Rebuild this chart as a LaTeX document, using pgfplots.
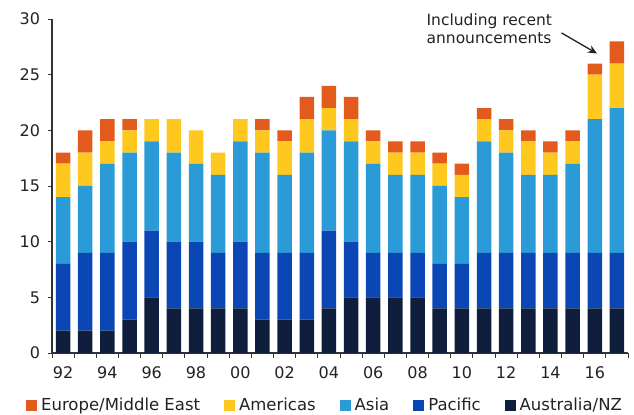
\documentclass[border=0pt]{standalone}
\usepackage{pgfplots}
\pgfplotsset{compat=1.18}
\usepackage{pgfplotstable}
\usepackage{fontspec}
\setmainfont{DejaVu Sans}
\usetikzlibrary{arrows.meta}

\definecolor{cEur}{HTML}{E25A1C}
\definecolor{cAm}{HTML}{FFC81E}
\definecolor{cAsia}{HTML}{2A9BD7}
\definecolor{cPac}{HTML}{0A46B4}
\definecolor{cAus}{HTML}{0F1E3C}
\definecolor{axisgray}{HTML}{333333}
\definecolor{textgray}{HTML}{222222}

% Capacity by region, 1992-2017 (x = 0 is 1992)
\pgfplotstableread{
x  aus pac asia am eur
0  2   6   6    3  1
1  2   7   6    3  2
2  2   7   8    2  2
3  3   7   8    2  1
4  5   6   8    2  0
5  4   6   8    3  0
6  4   6   7    3  0
7  4   5   7    2  0
8  4   6   9    2  0
9  3   6   9    2  1
10 3   6   7    3  1
11 3   6   9    3  2
12 4   7   9    2  2
13 5   5   9    2  2
14 5   4   8    2  1
15 5   4   7    2  1
16 5   4   7    2  1
17 4   4   7    2  1
18 4   4   6    2  1
19 4   5   10   2  1
20 4   5   9    2  1
21 4   5   7    3  1
22 4   5   7    2  1
23 4   5   8    2  1
24 4   5   12   4  1
25 4   5   13   4  2
}\capacity

\begin{document}
\begin{tikzpicture}
\useasboundingbox (0,0) rectangle (634bp,415bp);
\begin{axis}[
  at={(52bp,62bp)}, anchor=south west,
  scale only axis, width=576bp, height=334bp,
  ybar stacked, bar width=14.5bp,
  xmin=-0.5, xmax=25.5, ymin=0, ymax=30,
  clip=false,
  axis x line*=bottom, axis y line*=left,
  axis line style={draw=axisgray, line width=1.1bp},
  tick style={draw=axisgray, line width=0.9bp},
  tick align=outside,
  major tick length=4.5bp,
  xtick={-0.5,0.5,...,25.5}, xticklabels={},
  extra x ticks={0,2,...,24},
  extra x tick labels={92,94,96,98,00,02,04,06,08,10,12,14,16},
  extra x tick style={major tick length=0pt,
    xticklabel style={yshift=-10bp}},
  ytick={0,5,...,30},
  yticklabel style={xshift=-4bp},
  tick label style={font=\fontsize{16bp}{19bp}\selectfont, text=textgray},
  /pgf/number format/assume math mode=true,
  legend columns=5,
  reverse legend,
  legend style={at={(0.474,-0.156)}, anchor=center, draw=none, fill=none,
    font=\fontsize{16.5bp}{19bp}\selectfont, text=textgray,
    /tikz/every even column/.append style={column sep=22bp},
    /tikz/every odd column/.append style={column sep=2bp}},
  legend image code/.code={\fill[#1] (0bp,-5.5bp) rectangle (11bp,5.5bp);},
]
\addplot[fill=cAus, draw=none] table[x=x, y=aus] {\capacity};
\addlegendentry{Australia/NZ}
\addplot[fill=cPac, draw=none] table[x=x, y=pac] {\capacity};
\addlegendentry{Pacific}
\addplot[fill=cAsia, draw=none] table[x=x, y=asia] {\capacity};
\addlegendentry{Asia}
\addplot[fill=cAm, draw=none] table[x=x, y=am] {\capacity};
\addlegendentry{Americas}
\addplot[fill=cEur, draw=none] table[x=x, y=eur] {\capacity};
\addlegendentry{Europe/Middle East}

\node[anchor=north west, align=left, inner sep=0pt, text=textgray,
      font=\fontsize{15.5bp}{18bp}\selectfont]
  at (axis cs:16.4,30.45) {Including recent\\announcements};
\draw[-{Stealth[length=9bp,width=8bp]}, line width=1.3bp, textgray]
  (axis cs:22.5,28.75) -- (axis cs:24.1,26.9);
\end{axis}
\end{tikzpicture}
\end{document}
